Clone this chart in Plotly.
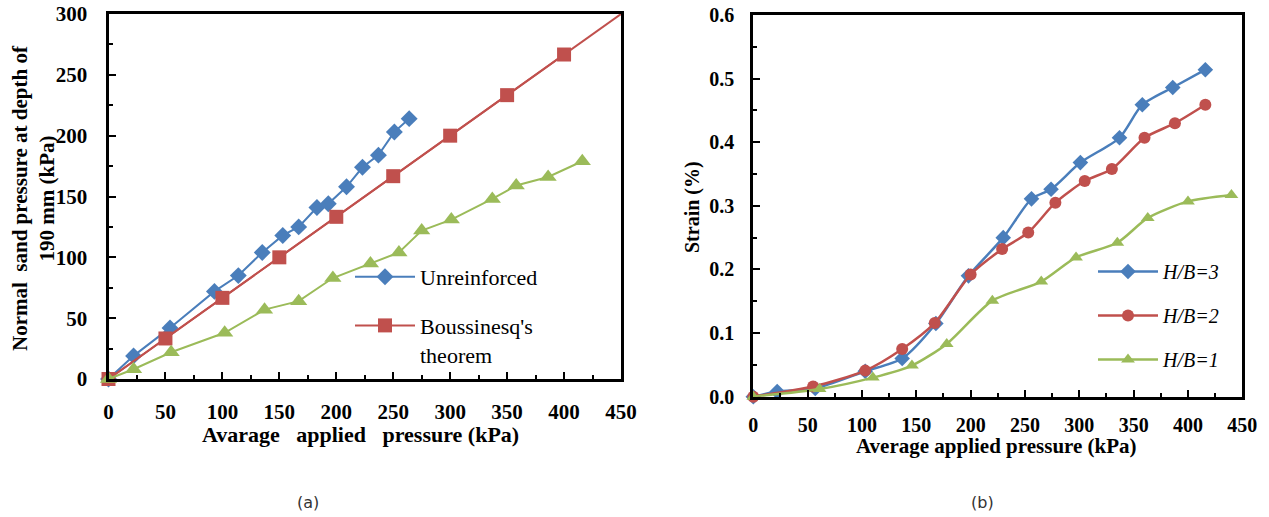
import plotly.graph_objects as go

W, H = 1269, 517

# ---------------- Panel (a) data ----------------
unr_x = [0, 22, 54, 93, 114, 135, 153, 167, 183, 193, 209, 223, 237, 251, 264]
unr_y = [0, 19, 42, 72, 85, 104, 118, 125, 141, 144, 158, 174, 184, 203, 214]

bous_x = [0, 50, 100, 150, 200, 250, 300, 350, 400, 450]
bous_y = [0, 33.3, 66.7, 100, 133.3, 166.7, 200, 233.3, 266.7, 300]

reinf_x = [0, 22, 55, 102, 137, 167, 197, 230, 255, 275, 301, 337, 358, 386, 416]
reinf_y = [0, 8, 22, 38, 57, 64, 83, 95, 104, 122, 131, 148, 159, 166, 179]

# ---------------- Panel (b) data ----------------
hb3_x = [0, 22, 57, 103, 137, 168, 198, 230, 256, 274, 301, 337, 358, 386, 416]
hb3_y = [0, 0.008, 0.013, 0.040, 0.060, 0.115, 0.190, 0.250, 0.311, 0.326, 0.368, 0.407, 0.459, 0.486, 0.514]
hb2_x = [0, 55, 103, 137, 167, 200, 229, 253, 278, 305, 330, 360, 388, 416]
hb2_y = [0, 0.016, 0.041, 0.075, 0.116, 0.192, 0.232, 0.258, 0.305, 0.339, 0.358, 0.407, 0.430, 0.459]
hb1_x = [0, 61, 110, 146, 178, 220, 265, 297, 335, 363, 400, 440]
hb1_y = [0, 0.012, 0.030, 0.049, 0.083, 0.151, 0.181, 0.219, 0.242, 0.281, 0.307, 0.317]

BLUE = "#4A7EBB"
RED = "#C0504D"
GREEN = "#9BBB59"
SERIF = "Liberation Serif"

fig = go.Figure()

# Panel (a)
fig.add_trace(go.Scatter(x=unr_x, y=unr_y, mode="lines+markers", name="Unreinforced",
                         line=dict(color=BLUE, width=2),
                         marker=dict(symbol="diamond", size=13, color=BLUE),
                         xaxis="x", yaxis="y", legend="legend", legendgroup="a1",
                         cliponaxis=False))
fig.add_trace(go.Scatter(x=bous_x, y=bous_y, mode="lines", showlegend=False,
                         line=dict(color=RED, width=2),
                         xaxis="x", yaxis="y", hoverinfo="skip"))
fig.add_trace(go.Scatter(x=bous_x[:-1], y=bous_y[:-1], mode="lines+markers",
                         name="Boussinesq's<br>theorem",
                         line=dict(color=RED, width=2),
                         marker=dict(symbol="square", size=14, color=RED),
                         xaxis="x", yaxis="y", legend="legend", legendgroup="a2",
                         cliponaxis=False))
fig.add_trace(go.Scatter(x=reinf_x, y=reinf_y, mode="lines+markers", showlegend=False,
                         line=dict(color=GREEN, width=2),
                         marker=dict(symbol="triangle-up", size=15, color=GREEN),
                         xaxis="x", yaxis="y", cliponaxis=False))

# Panel (b)
for xs, ys, nm, col, sym, sz, grp in [
    (hb3_x, hb3_y, "H/B=3", BLUE, "diamond", 12, "b1"),
    (hb2_x, hb2_y, "H/B=2", RED, "circle", 12, "b2"),
    (hb1_x, hb1_y, "H/B=1", GREEN, "triangle-up", 12, "b3"),
]:
    fig.add_trace(go.Scatter(x=xs, y=ys, mode="lines+markers", name=nm,
                             line=dict(color=col, width=2.5, shape="spline", smoothing=0.7),
                             marker=dict(symbol=sym, size=sz, color=col),
                             xaxis="x2", yaxis="y2", legend="legend2", legendgroup=grp,
                             cliponaxis=False))

def px_x(p):
    return p / W

def px_y(p):
    return 1 - p / H

tickfont_a = dict(family=SERIF, size=21, color="black", weight="bold")
tickfont_b = dict(family=SERIF, size=20, color="black", weight="bold")

common = dict(showline=True, mirror=True, linecolor="black", linewidth=3,
              showgrid=False, zeroline=False, ticks="inside", ticklen=7,
              tickwidth=2, tickcolor="black", automargin=False,
              ticklabeloverflow="allow")

minor_tick = dict(ticks="inside", ticklen=4, tickwidth=2, tickcolor="black")

fig.update_layout(
    width=W, height=H,
    margin=dict(l=0, r=0, t=0, b=0, autoexpand=False),
    paper_bgcolor="white", plot_bgcolor="white",
    xaxis=dict(domain=[px_x(108.5), px_x(621)], range=[0, 450], dtick=50,
               minor=dict(dtick=25, **minor_tick),
               tickfont=tickfont_a, ticklabelstandoff=12, anchor="y", **common),
    yaxis=dict(domain=[px_y(379), px_y(14)], range=[0, 300], dtick=50,
               minor=dict(dtick=25, **minor_tick),
               tickfont=tickfont_a, ticklabelstandoff=14, anchor="x", **common),
    xaxis2=dict(domain=[px_x(753.3), px_x(1242.3)], range=[0, 450], dtick=50,
                minor=dict(dtick=25, **minor_tick),
                tickfont=tickfont_b, ticklabelstandoff=8, anchor="y2", **common),
    yaxis2=dict(domain=[px_y(396.7), px_y(15)], range=[0, 0.6], dtick=0.1,
                minor=dict(dtick=0.05, **minor_tick),
                tickfont=tickfont_b, ticklabelstandoff=12, anchor="x2", tickformat=".1f",
                **common),
    legend=dict(x=px_x(350), y=px_y(256), xanchor="left", yanchor="top",
                bgcolor="rgba(0,0,0,0)", borderwidth=0, tracegroupgap=17,
                valign="top", itemwidth=60,
                font=dict(family=SERIF, size=22, color="black")),
    legend2=dict(x=px_x(1093), y=px_y(252), xanchor="left", yanchor="top",
                 bgcolor="rgba(0,0,0,0)", borderwidth=0, tracegroupgap=15,
                 itemwidth=60,
                 font=dict(family=SERIF, size=20, color="black", style="italic")),
    showlegend=True,
)

ann = [
    dict(text="Normal  sand pressure at depth of<br>190 mm (kPa)", x=px_x(33), y=px_y(198),
         textangle=-90, font=dict(family=SERIF, size=21, color="black", weight="bold")),
    dict(text="Avarage   applied   pressure (kPa)", x=px_x(360), y=px_y(434),
         font=dict(family=SERIF, size=22, color="black", weight="bold")),
    dict(text="Strain (%)", x=px_x(693), y=px_y(207), textangle=-90,
         font=dict(family=SERIF, size=20, color="black", weight="bold")),
    dict(text="Average applied pressure (kPa)", x=px_x(996), y=px_y(446),
         font=dict(family=SERIF, size=21, color="black", weight="bold")),
    dict(text="(a)", x=px_x(308), y=px_y(502),
         font=dict(family="DejaVu Sans", size=16, color="#333333")),
    dict(text="(b)", x=px_x(982), y=px_y(502),
         font=dict(family="DejaVu Sans", size=16, color="#333333")),
]
for a in ann:
    fig.add_annotation(xref="paper", yref="paper", showarrow=False,
                       xanchor="center", yanchor="middle", **a)

# Remove the default page margin so the figure sits at the window's top-left corner.
fig.write_html("out.html",
               config={"displayModeBar": False},
               post_script="document.body.style.margin='0';document.body.style.overflow='hidden';")
